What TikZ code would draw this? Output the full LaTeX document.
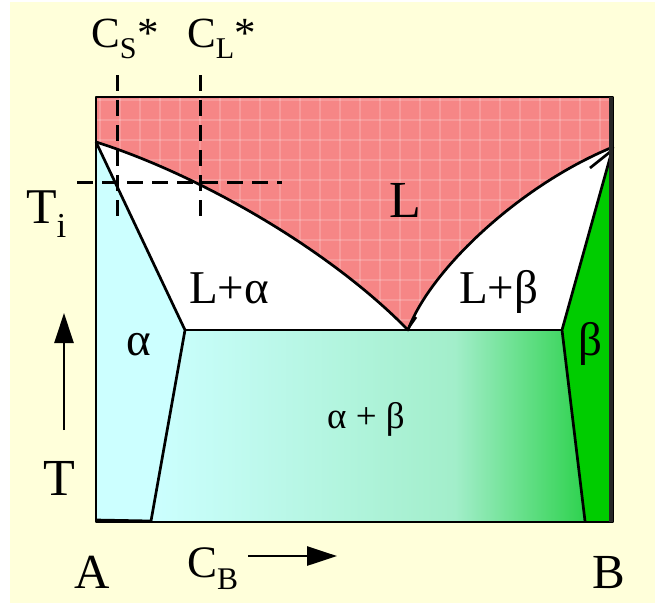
\documentclass[tikz,border=0pt]{standalone}
\usepackage{fontspec}
\setmainfont{Liberation Serif}
\usetikzlibrary{arrows.meta}
\definecolor{paleyellow}{HTML}{FFFFDA}
\definecolor{liquidred}{HTML}{F68686}
\definecolor{alphacyan}{HTML}{CCFFFF}
\definecolor{mixteal}{HTML}{A2EECA}
\definecolor{mixgreen}{HTML}{2ED24E}
\definecolor{betagreen}{HTML}{00CC00}

\begin{document}
\begin{tikzpicture}[x=1pt,y=-1pt,
    phaseline/.style={line width=2.7pt, line join=round},
    guide/.style={line width=3pt, dash pattern=on 16pt off 9pt},
    axisarrow/.style={line width=2.8pt, -{Triangle[length=30pt,width=19pt]}},
    lbl/.style={font=\fontsize{47}{50}\selectfont, inner sep=0pt, anchor=base west}]
  \useasboundingbox (0,0) rectangle (655,603);
  % Background
  \fill[paleyellow] (10,2) rectangle (655,603);
  % Key points of the diagram
  \coordinate (boxTL) at (96,97);
  \coordinate (boxTR) at (613,97);
  \coordinate (boxBL) at (96,522);
  \coordinate (boxBR) at (613,522);
  \coordinate (meltA) at (96,142);
  \coordinate (meltB) at (613,147);
  \coordinate (eut) at (408,330);
  \coordinate (eutL) at (185,330);
  \coordinate (eutR) at (562,330);
  \coordinate (solvL) at (151,521);
  \coordinate (solvR) at (585,521);
  \coordinate (fadeTop) at (455,330);
  \coordinate (fadeBot) at (455,521);
  % Two-phase fields (white)
  \fill[white] (boxTL) rectangle (boxBR);
  % Liquid field
  \fill[liquidred] (meltA) -- (boxTL) -- (boxTR) -- (meltB)
    .. controls (520,185) and (430,270) .. (eut)
    .. controls (330,250) and (200,175) .. (meltA) -- cycle;
  \begin{scope}
    \clip (meltA) -- (boxTL) -- (boxTR) -- (meltB)
      .. controls (520,185) and (430,270) .. (eut)
      .. controls (330,250) and (200,175) .. (meltA) -- cycle;
    \foreach \gx in {100,120,...,600}
      \draw[white, opacity=0.18, line width=1.2pt] (\gx,97) -- (\gx,340);
    \foreach \gy in {100,120,...,340}
      \draw[white, opacity=0.18, line width=1.2pt] (96,\gy) -- (613,\gy);
  \end{scope}
  % Solid solutions
  \fill[alphacyan] (meltA) -- (eutL) -- (solvL) -- (boxBL) -- cycle;
  \fill[betagreen] (meltB) -- (eutR) -- (solvR) -- (boxBR) -- cycle;
  \shade[left color=alphacyan, right color=mixteal]
    (eutL) -- ([xshift=0.5pt]fadeTop) -- ([xshift=0.5pt]fadeBot) -- (solvL) -- cycle;
  \shade[left color=mixteal, right color=mixgreen]
    (fadeTop) -- (eutR) -- (solvR) -- (fadeBot) -- cycle;
  % Phase boundaries
  \draw[phaseline] (meltA) .. controls (200,175) and (330,250) .. (eut)
    .. controls (430,270) and (520,185) .. (meltB);
  \draw[phaseline] (meltA) -- (eutL) -- (solvL);
  \draw[phaseline] (meltB) -- (eutR) -- (solvR);
  \draw[phaseline] (eutL) -- (eutR);
  \draw[phaseline] (409,327) -- (416,317);
  \draw[phaseline] (590,168) -- (610,152);
  \draw[phaseline] (96,520) -- (solvL);
  \draw[phaseline] (boxTL) rectangle (boxBR);
  \draw[line width=4pt, black!85] (611,97) -- (611,522);
  % Tie line at T_i
  \coordinate (csTop) at (117,75);
  \coordinate (csBot) at (117,218);
  \coordinate (clTop) at (200,75);
  \coordinate (clBot) at (200,218);
  \coordinate (tiL) at (77,182);
  \coordinate (tiR) at (282,182);
  \draw[guide] (csTop) -- (csBot);
  \draw[guide] (clTop) -- (clBot);
  \draw[guide] (tiL) -- (tiR);
  % Labels
  \node[lbl, font=\fontsize{43}{48}\selectfont] (labCS) at (91,47) {C\textsubscript{S}*};
  \node[lbl, font=\fontsize{43}{48}\selectfont] (labCL) at (187,47) {C\textsubscript{L}*};
  \node[lbl, font=\fontsize{50}{56}\selectfont] (labTi) at (26,223) {T\textsubscript{i}};
  \node[lbl, font=\fontsize{52}{56}\selectfont] (labL) at (389,217) {L};
  \node[lbl] (labLa) at (189,303) {L+α};
  \node[lbl] (labLb) at (459,303) {L+β};
  \node[lbl] (labA) at (126,355) {α};
  \node[lbl] (labB) at (578,355) {β};
  \node[lbl, font=\fontsize{37}{40}\selectfont] (labAB) at (327,428) {α + β};
  \node[lbl, font=\fontsize{52}{56}\selectfont] (labT) at (43,495) {T};
  \node[lbl, font=\fontsize{49}{52}\selectfont] (labCompA) at (74,588) {A};
  \node[lbl, font=\fontsize{45}{48}\selectfont] (labCB) at (187,577) {C\textsubscript{B}};
  \node[lbl, font=\fontsize{49}{52}\selectfont] (labCompB) at (592,588) {B};
  % Axis arrows
  \coordinate (tArrowFoot) at (64,430);
  \coordinate (tArrowTip) at (64,313);
  \coordinate (cArrowFoot) at (248,556);
  \coordinate (cArrowTip) at (337,556);
  \draw[axisarrow] (tArrowFoot) -- (tArrowTip);
  \draw[axisarrow] (cArrowFoot) -- (cArrowTip);
\end{tikzpicture}
\end{document}
